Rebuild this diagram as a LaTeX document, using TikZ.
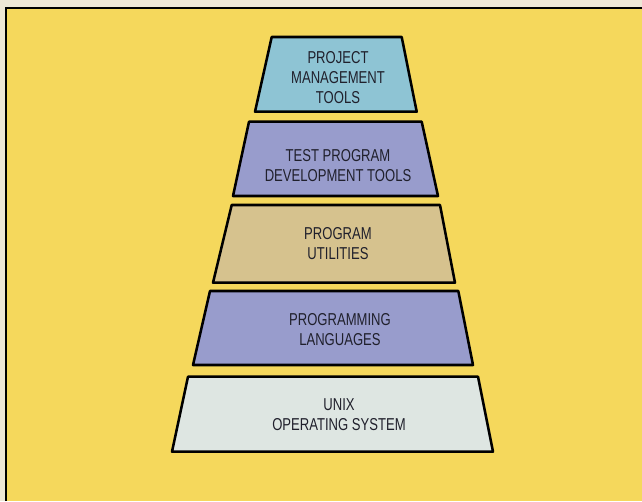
\documentclass[tikz,border=0pt]{standalone}
\usepackage{fontspec}
\setmainfont{Liberation Sans}[FakeStretch=0.76]
\definecolor{paper}{RGB}{238,231,214}
\definecolor{backyellow}{RGB}{245,216,92}
\definecolor{toolblue}{RGB}{142,196,212}
\definecolor{lavender}{RGB}{152,156,204}
\definecolor{sandtan}{RGB}{214,194,142}
\definecolor{palegrey}{RGB}{222,230,226}
\definecolor{inkdark}{RGB}{32,32,44}

\tikzset{every picture/.style={line width=0.75pt}}
\tikzset{
  layer/.style={draw=black, line width=1.9pt, line join=round},
  layertext/.style={align=center, text=inkdark, font=\fontsize{12.9}{15}\selectfont}
}

\begin{document}
\begin{tikzpicture}[x=0.75pt,y=0.75pt,yscale=-1,xscale=1]
    \useasboundingbox (0,0) rectangle (642,501);
    %Background
    \fill[paper] (0,0) rectangle (642,501);
    \fill[backyellow] (6,8) rectangle (642,501);
    \draw[line width=1.6pt] (6,501) -- (6,8) -- (642,8);
    %Trapezoid [project management]
    \draw[layer, fill=toolblue] (255,111.7) -- (271.7,37) -- (401.7,37) -- (416.7,111.7) -- cycle ;
    %Trapezoid [test program tools]
    \draw[layer, fill=lavender] (233,196) -- (249,121.7) -- (421.7,121.7) -- (438,196) -- cycle ;
    %Trapezoid [utilities]
    \draw[layer, fill=sandtan] (213,282.7) -- (231.7,205) -- (440,205) -- (455,282.7) -- cycle ;
    %Trapezoid [languages]
    \draw[layer, fill=lavender] (193,365) -- (210,291) -- (458.3,291) -- (473,365) -- cycle ;
    %Trapezoid [unix]
    \draw[layer, fill=palegrey] (172,451.7) -- (188,376.7) -- (478,376.7) -- (493,451.7) -- cycle ;
    % Text Nodes
    \node[layertext] (projtools) at (338,78) {PROJECT\\MANAGEMENT\\TOOLS};
    \node[layertext] (testtools) at (338,165.5) {TEST PROGRAM\\DEVELOPMENT TOOLS};
    \node[layertext] (utilities) at (338,244) {PROGRAM\\UTILITIES};
    \node[layertext] (languages) at (340,329.5) {PROGRAMMING\\LANGUAGES};
    \node[layertext] (unixos) at (339,414.5) {UNIX\\OPERATING SYSTEM};
\end{tikzpicture}
\end{document}
